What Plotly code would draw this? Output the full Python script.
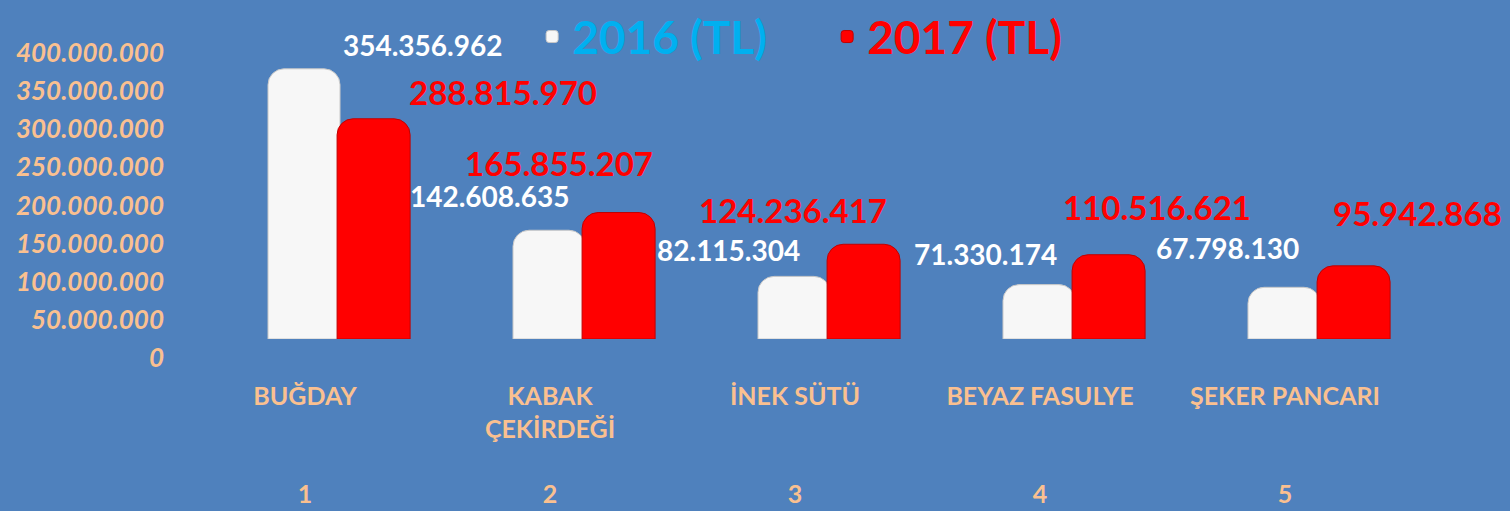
import plotly.graph_objects as go

# ---- data ----
category_lines = [["BUĞDAY"], ["KABAK", "ÇEKİRDEĞİ"], ["İNEK SÜTÜ"], ["BEYAZ FASULYE"], ["ŞEKER PANCARI"]]
category_numbers = ["1", "2", "3", "4", "5"]
values_2016 = [354356962, 142608635, 82115304, 71330174, 67798130]
values_2017 = [288815970, 165855207, 124236417, 110516621, 95942868]
series_names = ["2016 (TL)", "2017 (TL)"]
y_tick_values = [0, 50e6, 100e6, 150e6, 200e6, 250e6, 300e6, 350e6, 400e6]

# ---- label placement (pixel shifts relative to category position / bar value) ----
shift_2016 = [(118, 24), (-60, 34), (-66, 26), (-54, 31), (-57, 39)]
shift_2017 = [(198, 27), (9, 50), (-2, 34), (117, 48), (133, 53)]

BG = "#4F81BD"
ORANGE = "#FAC090"
BLUE_TXT = "#00B0F0"
RED = "#FF0000"
FONT = "Lato"


def fmt(v):
    return format(int(v), ",").replace(",", ".")


positions = list(range(len(category_lines)))
ticktext = []
for lines, num in zip(category_lines, category_numbers):
    parts = list(lines) + [""] * (3 - len(lines)) + [num]
    ticktext.append("<br>".join(parts))

fig = go.Figure()
fig.add_trace(go.Bar(
    x=positions, y=values_2016,
    name=f'<span style="color:{BLUE_TXT}">{series_names[0]}</span>',
    offset=-0.151, width=0.294,
    marker=dict(color="#F7F7F7", line=dict(color="#C8C8C8", width=1), cornerradius=16),
    hoverinfo="skip",
))
fig.add_trace(go.Bar(
    x=positions, y=values_2017,
    name=f'<span style="color:{RED}">{series_names[1]}</span>',
    offset=0.131, width=0.298,
    marker=dict(color=RED, line=dict(color="#C00000", width=1), cornerradius=16),
    hoverinfo="skip",
))

annotations = []
for k, (v, (dx, dy)) in enumerate(zip(values_2016, shift_2016)):
    annotations.append(dict(x=positions[k], y=v, xref="x", yref="y", text=fmt(v),
                            showarrow=False, xshift=dx, yshift=dy,
                            font=dict(family=FONT, size=28, color="white", weight="bold")))
for k, (v, (dx, dy)) in enumerate(zip(values_2017, shift_2017)):
    annotations.append(dict(x=positions[k], y=v, xref="x", yref="y", text=fmt(v),
                            showarrow=False, xshift=dx, yshift=dy,
                            font=dict(family=FONT, size=33, color=RED, weight="bold")))

fig.update_layout(
    width=1510, height=511,
    paper_bgcolor=BG, plot_bgcolor=BG,
    barmode="overlay",
    separators=",.",
    margin=dict(l=165, r=10, t=34, b=172, autoexpand=False),
    showlegend=True,
    legend=dict(orientation="h", x=0.275, xanchor="left", y=1.111, yanchor="top",
                font=dict(family=FONT, size=46, weight="bold"),
                bgcolor="rgba(0,0,0,0)", entrywidth=250, entrywidthmode="pixels",
                itemclick=False, itemdoubleclick=False),
    annotations=annotations,
    xaxis=dict(range=[-0.5714, 4.8776], tickvals=positions, ticktext=ticktext,
               showgrid=False, zeroline=False, showline=False, ticks="",
               tickfont=dict(family=FONT, size=25, color=ORANGE, weight="bold"),
               ticklabelstandoff=40, fixedrange=True),
    yaxis=dict(range=[0, 400e6], tickvals=y_tick_values, tickformat=",d",
               showgrid=False, zeroline=False, showline=False, ticks="",
               tickfont=dict(family=FONT, size=26, color=ORANGE, weight="bold", style="italic"),
               ticklabelshift=19, fixedrange=True),
)

fig.write_html(
    "out.html",
    config={"displayModeBar": False},
    post_script="document.body.style.margin='0';document.body.style.padding='0';",
)
